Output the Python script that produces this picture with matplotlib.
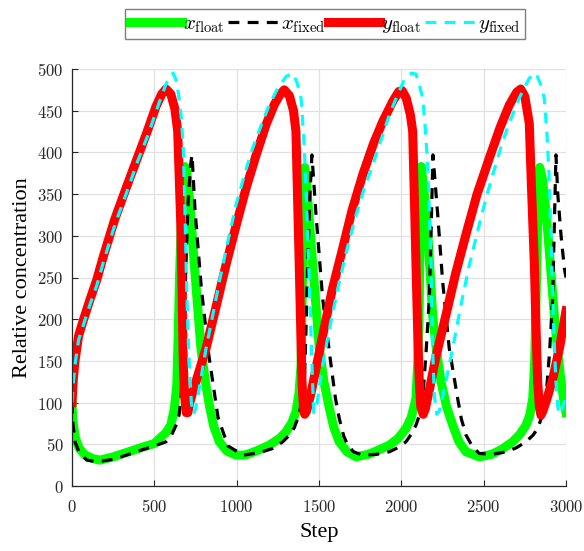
import matplotlib

matplotlib.use("Agg")
import matplotlib.pyplot as plt
from matplotlib.ticker import FuncFormatter

plt.rcParams["mathtext.fontset"] = "cm"

# values (step, relative concentration)
x_float_step = [0, 4, 20, 44, 80, 125, 170, 250, 328, 420, 500, 571, 600, 621, 636, 645, 653, 662, 672,
                685, 695, 713, 743, 763, 783, 810, 834, 860, 895, 940, 996, 1050, 1120, 1198, 1260, 1300,
                1335, 1360, 1378, 1391, 1401, 1406, 1413, 1422, 1431, 1462, 1482, 1502, 1530, 1563, 1590,
                1623, 1670, 1725, 1800, 1860, 1927, 1980, 2028, 2060, 2089, 2100, 2109, 2114, 2120, 2135,
                2160, 2190, 2215, 2241, 2275, 2312, 2350, 2393, 2473, 2550, 2610, 2676, 2720, 2757, 2780,
                2798, 2810, 2818, 2828, 2840, 2855, 2870, 2889, 2929, 2950, 2970, 2985, 3000]
x_float_val = [100, 80, 58, 45, 37, 33, 31, 35, 40, 46, 51, 64, 73, 92, 120, 180, 250, 305, 350,
               383, 378, 345, 265, 215, 165, 125, 97, 72, 53, 42, 37, 37, 42, 49, 57, 65,
               76, 89, 110, 145, 265, 340, 382, 370, 345, 265, 215, 165, 125, 93, 70,
               53, 41, 35, 38, 43, 49, 57, 69, 82, 105, 150, 225, 320, 383, 360,
               305, 205, 160, 125, 95, 73, 53, 41, 35, 38, 44, 53, 62, 73, 85,
               105, 150, 225, 320, 382, 370, 345, 305, 205, 160, 125, 105, 88]

x_fixed_step = [0, 5, 20, 45, 90, 156, 250, 330, 420, 500, 571, 600, 632, 650, 662, 675, 685, 692, 705,
                720, 729, 747, 785, 830, 887, 947, 1040, 1140, 1219, 1280, 1320, 1350, 1371, 1395, 1411,
                1420, 1431, 1445, 1457, 1482, 1522, 1573, 1600, 1623, 1650, 1674, 1710, 1765, 1850, 1927,
                1980, 2028, 2060, 2089, 2110, 2130, 2150, 2170, 2180, 2192, 2221, 2251, 2291, 2342, 2365,
                2393, 2430, 2473, 2550, 2636, 2700, 2757, 2800, 2828, 2855, 2878, 2900, 2919, 2930, 2939,
                2950, 2970, 2990, 3000]
x_fixed_val = [100, 75, 52, 40, 31, 29, 32, 37, 43, 48, 53, 59, 73, 85, 105, 160, 225, 265, 340,
               385, 397, 331, 238, 158, 82, 48, 37, 40, 45, 53, 61, 70, 81, 100, 125,
               180, 265, 350, 397, 325, 225, 145, 105, 81, 60, 49, 41, 37, 38, 41,
               46, 53, 62, 73, 85, 105, 160, 225, 300, 397, 325, 245, 165, 105, 80,
               61, 48, 39, 38, 41, 46, 53, 61, 69, 84, 105, 160, 225, 320, 397,
               350, 300, 261, 250]

y_float_step = [0, 8, 18, 40, 69, 110, 150, 190, 260, 332, 400, 453, 510, 545, 571, 600, 625, 642, 652,
                662, 669, 676, 684, 694, 704, 715, 760, 814, 875, 935, 1000, 1057, 1120, 1178, 1230, 1265,
                1289, 1320, 1345, 1360, 1370, 1380, 1390, 1397, 1405, 1413, 1425, 1450, 1522, 1580, 1644,
                1700, 1765, 1830, 1887, 1950, 1985, 2005, 2030, 2055, 2069, 2080, 2089, 2100, 2109, 2118,
                2133, 2145, 2170, 2210, 2271, 2330, 2393, 2460, 2534, 2600, 2656, 2700, 2725, 2750, 2777,
                2790, 2808, 2818, 2828, 2838, 2848, 2860, 2885, 2919, 2960, 3000]
y_float_val = [100, 128, 150, 180, 199, 224, 247, 275, 320, 359, 395, 423, 455, 470, 476, 470, 452, 425, 365,
               305, 225, 145, 108, 88, 88, 100, 130, 165, 215, 265, 315, 357, 398, 433, 458, 470,
               475, 468, 450, 425, 345, 265, 180, 125, 95, 86, 90, 110, 180, 235, 285,
               330, 373, 410, 437, 462, 473, 474, 465, 445, 425, 340, 265, 180, 125, 95,
               86, 92, 115, 155, 205, 255, 302, 350, 393, 430, 457, 472, 476, 467, 435,
               360, 265, 190, 125, 95, 85, 90, 105, 128, 165, 210]

y_fixed_step = [0, 8, 18, 40, 69, 110, 150, 190, 260, 332, 400, 460, 530, 571, 595, 615, 635, 650, 662, 675,
                685, 695, 705, 715, 725, 737, 750, 780, 814, 855, 895, 945, 996, 1050, 1097, 1150, 1198,
                1250, 1300, 1340, 1365, 1391, 1400, 1411, 1431, 1451, 1460, 1468, 1485, 1522, 1570, 1623,
                1675, 1725, 1775, 1826, 1880, 1927, 1975, 2018, 2060, 2089, 2110, 2130, 2145, 2160, 2170,
                2180, 2190, 2200, 2215, 2231, 2270, 2312, 2360, 2413, 2465, 2514, 2565, 2615, 2665, 2716,
                2777, 2818, 2845, 2868, 2885, 2899, 2910, 2919, 2930, 2939, 2950, 2959, 2975, 3000]
y_fixed_val = [100, 124, 145, 175, 193, 218, 240, 268, 313, 352, 390, 420, 460, 482, 492, 495, 485, 465, 445, 410,
               340, 250, 180, 135, 100, 86, 92, 125, 165, 205, 245, 292, 337, 375, 405, 433, 457,
               477, 491, 495, 485, 465, 440, 405, 305, 185, 130, 88, 95, 145, 195, 245,
               288, 325, 357, 385, 417, 445, 468, 487, 495, 494, 480, 465, 430, 385, 330,
               265, 165, 110, 86, 90, 125, 165, 215, 265, 307, 345, 380, 413, 440, 465,
               489, 495, 482, 465, 420, 365, 290, 225, 165, 125, 95, 86, 92, 108]

fig = plt.figure(figsize=(5.84, 5.51), dpi=100)
ax = fig.add_axes([72 / 584, 65 / 551, 494 / 584, 417 / 551])

ax.plot(x_float_step, x_float_val, color="#00ff00", lw=6.5, solid_joinstyle="round",
        label=r"$x_{\mathrm{float}}$")
ax.plot(x_fixed_step, x_fixed_val, color="black", lw=2.3, dashes=(3.4, 2.6),
        label=r"$x_{\mathrm{fixed}}$")
ax.plot(y_float_step, y_float_val, color="#ff0000", lw=6.5, solid_joinstyle="round",
        label=r"$y_{\mathrm{float}}$")
ax.plot(y_fixed_step, y_fixed_val, color="#00ffff", lw=2.3, dashes=(3.4, 2.6),
        label=r"$y_{\mathrm{fixed}}$")

ax.set_xlim(0, 3000)
ax.set_ylim(0, 500)
ax.set_xticks(range(0, 3001, 500))
ax.set_yticks(range(0, 501, 50))
cm_fmt = FuncFormatter(lambda v, _: f"${int(v)}$")
ax.xaxis.set_major_formatter(cm_fmt)
ax.yaxis.set_major_formatter(cm_fmt)
ax.tick_params(direction="in", length=4, labelsize=12, colors="#262626")
ax.tick_params(axis="x", pad=9)
ax.tick_params(axis="y", pad=6)
ax.grid(True, color="#e0e0e0", lw=0.9)
ax.set_axisbelow(True)
for s in ("top", "right"):
    ax.spines[s].set_visible(False)
for s in ("left", "bottom"):
    ax.spines[s].set_color("#262626")
    ax.spines[s].set_linewidth(0.9)

ax.set_xlabel("Step", fontsize=16, family="Liberation Serif", labelpad=5)
ax.set_ylabel("Relative concentration", fontsize=16, family="Liberation Serif", labelpad=4)

fig.legend(loc="center", bbox_to_anchor=(325 / 584, 1 - 24 / 551), ncol=4, fontsize=15,
           handlelength=2.5, handletextpad=0.05, columnspacing=0.15, borderpad=0.2,
           borderaxespad=0, fancybox=False, edgecolor="#7f7f7f", framealpha=1)

fig.savefig("out.png", dpi=100)
